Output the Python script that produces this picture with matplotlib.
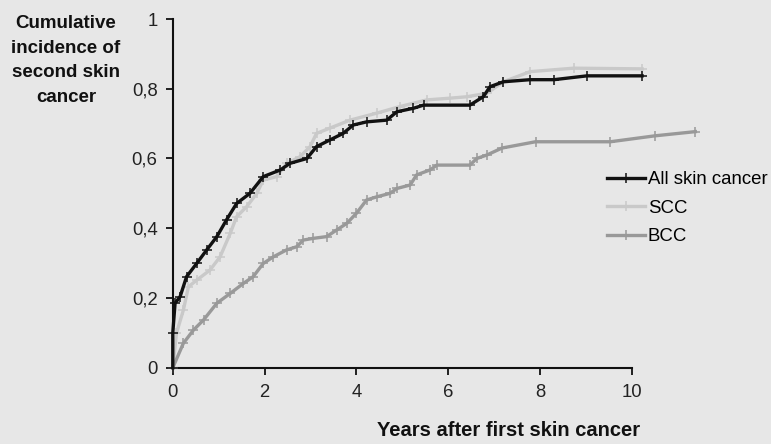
import matplotlib
matplotlib.use("Agg")
import matplotlib.pyplot as plt

plt.rcParams['font.family'] = ['Liberation Sans', 'DejaVu Sans']

# (years, cumulative incidence)
all_x = [0, 0, 0.05, 0.16, 0.30, 0.52, 0.74, 0.96, 1.17, 1.39, 1.68, 1.97, 2.34, 2.55,
         2.92, 3.13, 3.42, 3.71, 3.93, 4.22, 4.66, 4.88, 5.24, 5.46, 6.47, 6.76, 6.91,
         7.20, 7.78, 8.30, 9.02, 10.22]
all_y = [0, 0.10, 0.185, 0.204, 0.261, 0.299, 0.338, 0.376, 0.424, 0.471, 0.500, 0.548,
         0.567, 0.586, 0.600, 0.634, 0.653, 0.672, 0.696, 0.705, 0.710, 0.734, 0.744,
         0.753, 0.753, 0.777, 0.806, 0.820, 0.826, 0.826, 0.837, 0.837]

scc_x = [0, 0.08, 0.23, 0.34, 0.52, 0.81, 1.03, 1.25, 1.39, 1.61, 1.83, 1.97, 2.26, 2.48,
         2.77, 2.99, 3.13, 3.42, 3.86, 4.44, 4.95, 5.53, 6.04, 6.40, 6.84, 7.20, 7.78,
         8.73, 10.22]
scc_y = [0, 0.099, 0.165, 0.232, 0.251, 0.280, 0.318, 0.385, 0.433, 0.462, 0.500, 0.538,
         0.548, 0.586, 0.605, 0.634, 0.672, 0.687, 0.710, 0.730, 0.749, 0.768, 0.773,
         0.777, 0.787, 0.820, 0.849, 0.859, 0.857]

bcc_x = [0, 0.23, 0.45, 0.67, 0.96, 1.25, 1.54, 1.75, 1.97, 2.19, 2.48, 2.70, 2.84, 3.06,
         3.35, 3.57, 3.79, 4.00, 4.22, 4.44, 4.73, 4.88, 5.17, 5.31, 5.60, 5.75, 6.47,
         6.62, 6.84, 7.17, 7.90, 9.53, 10.5, 11.38]
bcc_y = [0, 0.070, 0.108, 0.137, 0.185, 0.213, 0.242, 0.261, 0.299, 0.318, 0.338, 0.347,
         0.366, 0.371, 0.376, 0.395, 0.414, 0.443, 0.481, 0.490, 0.500, 0.514, 0.524,
         0.553, 0.567, 0.581, 0.581, 0.600, 0.610, 0.630, 0.648, 0.648, 0.665, 0.677]

x_ticks = [0, 2, 4, 6, 8, 10]
y_ticks = [0, 0.2, 0.4, 0.6, 0.8, 1]
y_labels = ['0', '0,2', '0,4', '0,6', '0,8', '1']

bg = '#e7e7e7'
fig = plt.figure(figsize=(7.71, 4.44), dpi=100, facecolor=bg)
ax = fig.add_axes([0.2241, 0.1718, 0.5956, 0.7854], facecolor=bg)

ax.plot(all_x, all_y, color='#111111', lw=2.4, marker='+', ms=7, mew=1.1,
        label='All skin cancer', zorder=4)
ax.plot(scc_x, scc_y, color='#c9c9c9', lw=2.4, marker='+', ms=7, mew=1.1,
        label='SCC', zorder=3)
ax.plot(bcc_x, bcc_y, color='#999999', lw=2.4, marker='+', ms=7, mew=1.1,
        label='BCC', zorder=3)

ax.set_xlim(0, 10)
ax.set_ylim(0, 1)
ax.set_xticks(x_ticks)
ax.set_xticklabels([str(v) for v in x_ticks])
ax.set_yticks(y_ticks)
ax.set_yticklabels(y_labels)
ax.tick_params(direction='out', length=5, width=1.3, labelsize=13.3,
               labelcolor='#222222', color='#111111')
ax.tick_params(axis='y', pad=6)
ax.tick_params(axis='x', pad=7)
for s in ['top', 'right']:
    ax.spines[s].set_visible(False)
for s in ['left', 'bottom']:
    ax.spines[s].set_linewidth(1.5)
    ax.spines[s].set_color('#111111')
    ax.spines[s].set_clip_on(False)
for ln in ax.lines:
    ln.set_clip_on(False)

fig.text(66 / 771, 1 - 15 / 444, 'Cumulative\nincidence of\nsecond skin\ncancer',
         ha='center', va='top', fontsize=13.5, fontweight='bold', linespacing=1.58,
         color='#111111')
fig.text(509 / 771, 1 - 430 / 444, 'Years after first skin cancer',
         ha='center', va='center', fontsize=14.5, fontweight='bold', color='#111111')

ax.legend(loc='upper left', bbox_to_anchor=(607 / 771, 1 - 171 / 444),
          bbox_transform=fig.transFigure, frameon=False, fontsize=13.4,
          handlelength=2.05, handletextpad=0.15, labelspacing=0.62,
          borderpad=0, borderaxespad=0)

fig.savefig('out.png', dpi=100, facecolor=bg)
